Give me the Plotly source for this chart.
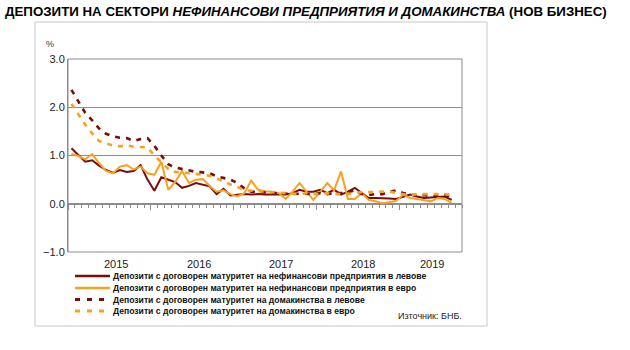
import plotly.graph_objects as go

# ---------------- data ----------------
months = list(range(56))  # Jan 2015 .. Aug 2019 (monthly index)
year_labels = ["2015", "2016", "2017", "2018", "2019"]
y_ticks = [-1, 0, 1, 2, 3]

nfc_bgn = [1.15, 1.00, 0.87, 0.90, 0.79, 0.70, 0.64, 0.70, 0.66, 0.68, 0.80, 0.50,
           0.27, 0.55, 0.50, 0.45, 0.33, 0.37, 0.43, 0.40, 0.36, 0.20, 0.31, 0.17,
           0.18, 0.20, 0.19, 0.20, 0.19, 0.19, 0.19, 0.19, 0.22, 0.29, 0.25, 0.25,
           0.29, 0.22, 0.29, 0.19, 0.25, 0.33, 0.22, 0.12, 0.12, 0.12, 0.11, 0.10,
           0.14, 0.19, 0.15, 0.12, 0.13, 0.14, 0.15, 0.08]
nfc_eur = [1.03, 0.99, 0.92, 1.03, 0.84, 0.68, 0.63, 0.77, 0.80, 0.71, 0.77, 0.63,
           0.60, 0.87, 0.29, 0.45, 0.68, 0.43, 0.50, 0.51, 0.37, 0.25, 0.28, 0.20,
           0.15, 0.22, 0.48, 0.29, 0.26, 0.25, 0.22, 0.10, 0.25, 0.43, 0.25, 0.08,
           0.25, 0.43, 0.28, 0.67, 0.10, 0.10, 0.22, 0.08, 0.05, 0.01, 0.03, 0.06,
           0.19, 0.12, 0.10, 0.08, 0.05, 0.12, 0.10, 0.02]
hh_bgn = [2.36, 2.12, 1.88, 1.73, 1.56, 1.45, 1.40, 1.37, 1.36, 1.30, 1.34, 1.36,
          1.20, 1.00, 0.82, 0.75, 0.72, 0.69, 0.66, 0.65, 0.63, 0.57, 0.53, 0.50,
          0.43, 0.32, 0.25, 0.24, 0.23, 0.22, 0.22, 0.20, 0.20, 0.21, 0.20, 0.20,
          0.22, 0.20, 0.22, 0.22, 0.24, 0.28, 0.20, 0.18, 0.20, 0.20, 0.25, 0.28,
          0.22, 0.20, 0.16, 0.18, 0.15, 0.17, 0.18, 0.14]
hh_eur = [2.07, 1.85, 1.64, 1.46, 1.30, 1.25, 1.21, 1.19, 1.21, 1.18, 1.18, 1.17,
          1.00, 0.85, 0.72, 0.66, 0.65, 0.64, 0.62, 0.60, 0.58, 0.52, 0.47, 0.40,
          0.35, 0.28, 0.27, 0.25, 0.24, 0.23, 0.22, 0.22, 0.21, 0.20, 0.22, 0.20,
          0.20, 0.22, 0.20, 0.20, 0.20, 0.22, 0.24, 0.24, 0.25, 0.25, 0.26, 0.22,
          0.20, 0.18, 0.20, 0.20, 0.21, 0.21, 0.20, 0.18]

series_names = [
    "Депозити с договорен матуритет на нефинансови предприятия в левове",
    "Депозити с договорен матуритет на нефинансови предприятия в евро",
    "Депозити с договорен матуритет на домакинства в левове",
    "Депозити с договорен матуритет на домакинства в евро",
]
series_values = [nfc_bgn, nfc_eur, hh_bgn, hh_eur]

# ---------------- styles ----------------
DARK = "#7a0c0c"
ORANGE = "#f7a21f"
colors = [DARK, ORANGE, DARK, ORANGE]
dashes = ["solid", "solid", "5px,6px", "5px,6px"]
widths = [2, 2, 2.6, 2.6]
GRID = "#8c8c8c"
FONT = "Liberation Sans, Arial, sans-serif"

W, H = 630, 350
L, R, T, B = 68, 462, 59, 252  # plot area in pixels


def px(x):
    return (x - L) / (R - L)


def py(y):
    return (B - y) / (B - T)


fig = go.Figure()
for name, vals, c, d, w in zip(series_names, series_values, colors, dashes, widths):
    fig.add_trace(go.Scatter(x=months, y=vals, mode="lines", name=name,
                             line=dict(color=c, width=w, dash=d), showlegend=False))

shapes = []
annotations = []

# plot frame
shapes.append(dict(type="rect", xref="paper", yref="paper", x0=0, x1=1, y0=0, y1=1,
                   line=dict(color=GRID, width=1)))
# outer chart frame
shapes.append(dict(type="rect", xref="paper", yref="paper", x0=px(35), x1=px(487),
                   y0=py(326), y1=py(22), line=dict(color="#c8c8c8", width=1), layer="below"))

# manual legend
row_y = [276, 288, 299.5, 311]
for name, c, d, w, ry in zip(series_names, colors, dashes, widths, row_y):
    shapes.append(dict(type="line", xref="paper", yref="paper", x0=px(75), x1=px(110),
                       y0=py(ry), y1=py(ry), line=dict(color=c, width=w + 0.5,
                                                       dash=d if d == "solid" else "5px,7px")))
    annotations.append(dict(text=name, xref="paper", yref="paper", x=px(111), y=py(ry),
                            xanchor="left", yanchor="middle", showarrow=False,
                            font=dict(family=FONT, size=8.6, color="#111111", weight="bold")))

# year labels
year_pos = [6.5, 18.5, 30.3, 42.2, 52.2]
for lab, xp in zip(year_labels, year_pos):
    annotations.append(dict(text=lab, xref="x", yref="paper", x=xp, y=py(264),
                            xanchor="center", yanchor="middle", showarrow=False,
                            font=dict(family=FONT, size=11, color="#222222")))

annotations.append(dict(text="%", xref="paper", yref="paper", x=px(50), y=py(44),
                        xanchor="center", yanchor="middle", showarrow=False,
                        font=dict(family=FONT, size=9, color="#333333")))
annotations.append(dict(text="Източник: БНБ.", xref="paper", yref="paper", x=px(464), y=py(316),
                        xanchor="right", yanchor="middle", showarrow=False,
                        font=dict(family=FONT, size=9, color="#222222")))
annotations.append(dict(
    text="ДЕПОЗИТИ НА СЕКТОРИ <i>НЕФИНАНСОВИ ПРЕДПРИЯТИЯ И ДОМАКИНСТВА</i> (НОВ БИЗНЕС)",
    xref="paper", yref="paper", x=px(3), y=py(11), xanchor="left", yanchor="middle",
    showarrow=False,
    font=dict(family="Liberation Sans Narrow, Arial Narrow, Liberation Sans, sans-serif",
              size=13.3, color="#000000", weight="bold")))

fig.update_layout(
    width=W, height=H,
    margin=dict(l=L, r=W - R, t=T, b=H - B, pad=0),
    paper_bgcolor="white", plot_bgcolor="white",
    showlegend=False,
    shapes=shapes, annotations=annotations,
    xaxis=dict(range=[-0.5, 56.5], showgrid=False, zeroline=False,
               anchor="free", position=0.25,
               showline=True, linecolor=GRID, linewidth=1,
               ticks="outside", tickmode="linear", tick0=-0.5, dtick=12,
               ticklen=5, tickcolor=GRID, showticklabels=False,
               minor=dict(ticks="outside", tick0=-0.5, dtick=1, ticklen=3,
                          tickcolor=GRID, showgrid=False)),
    yaxis=dict(range=[-1, 3], tickmode="array", tickvals=y_ticks, tickformat=".1f",
               showgrid=True, gridcolor=GRID, gridwidth=1, zeroline=False,
               showline=True, linecolor=GRID, ticks="",
               tickfont=dict(family=FONT, size=11, color="#222222")),
)

fig.write_html("out.html")
